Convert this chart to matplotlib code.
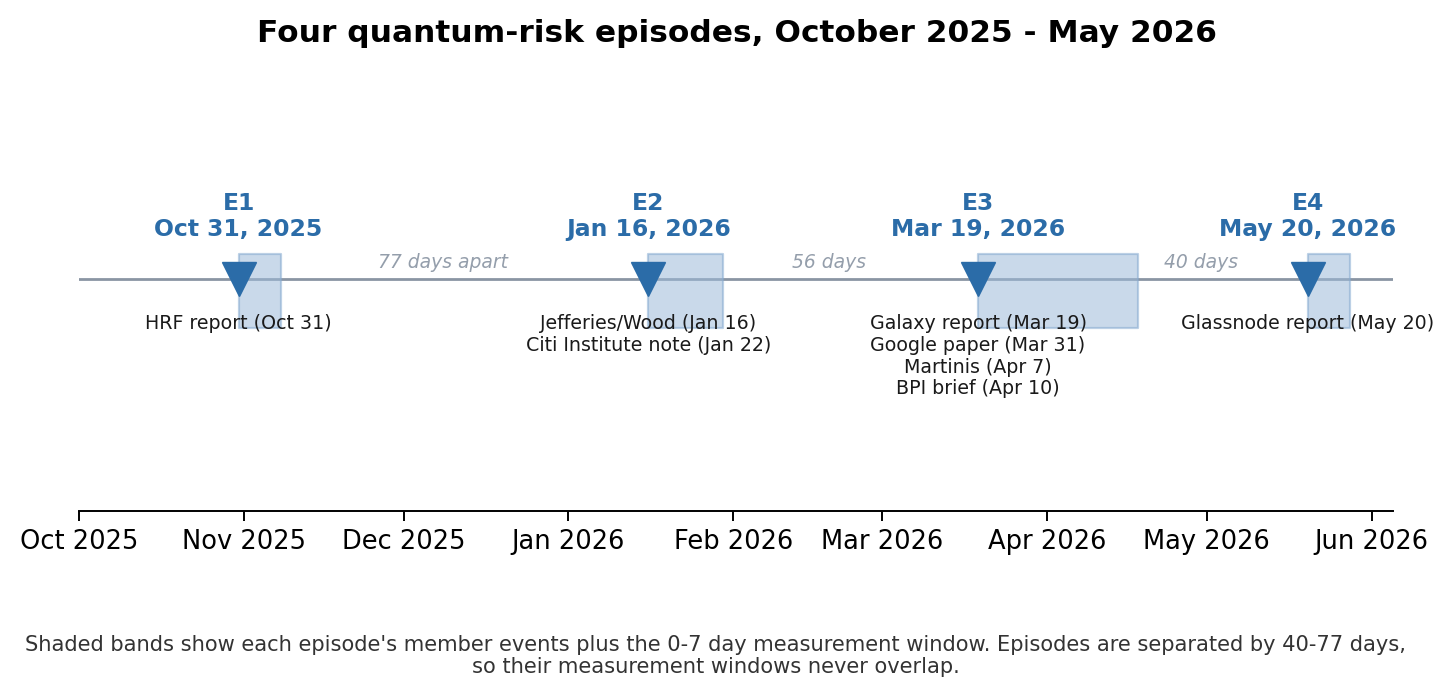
import datetime as dt

import matplotlib
matplotlib.use("Agg")
import matplotlib.dates as mdates
import matplotlib.pyplot as plt

# episodes: first member date, member events, end of measurement window
episode_names = ["E1", "E2", "E3", "E4"]
episode_starts = [dt.date(2025, 10, 31), dt.date(2026, 1, 16), dt.date(2026, 3, 19), dt.date(2026, 5, 20)]
episode_last = [dt.date(2025, 10, 31), dt.date(2026, 1, 22), dt.date(2026, 4, 10), dt.date(2026, 5, 20)]
window_days = 8  # day 0..7 inclusive
episode_events = [
    ["HRF report (Oct 31)"],
    ["Jefferies/Wood (Jan 16)", "Citi Institute note (Jan 22)"],
    ["Galaxy report (Mar 19)", "Google paper (Mar 31)", "Martinis (Apr 7)", "BPI brief (Apr 10)"],
    ["Glassnode report (May 20)"],
]
gap_labels = ["77 days apart", "56 days", "40 days"]

x_start = dt.date(2025, 10, 1)
x_end = dt.date(2026, 6, 5)

BLUE = "#2b6ca8"
BAND = "#9dbbd9"
LINE = "#8a95a3"
GAP_TXT = "#949eab"

fig = plt.figure(figsize=(14.56, 6.96), dpi=100)
ax = fig.add_axes([79 / 1456, (696 - 511) / 696, (1393 - 79) / 1456, (511 - 100) / 696])
ax.set_ylim(-1.3, 1.0)
ax.set_xlim(x_start, x_end)

ax.axhline(0, color=LINE, linewidth=2, zorder=1)

for name, start, last, events in zip(episode_names, episode_starts, episode_last, episode_events):
    end = last + dt.timedelta(days=window_days)
    ax.fill_between([start, end], -0.275, 0.14, color=BAND, alpha=0.55,
                    edgecolor="#86aad0", linewidth=1.6, zorder=2)
    ax.plot([start], [0], marker="v", markersize=24, color=BLUE, zorder=3, linestyle="none")
    ax.text(start, 0.21, f"{name}\n{start.strftime('%b')} {start.day}, {start.year}",
            ha="center", va="bottom", fontsize=16.9, fontweight="bold", color=BLUE,
            linespacing=1.2)
    ax.text(start, -0.2, "\n".join(events), ha="center", va="top", fontsize=13.7,
            color="#1a1a1a", linespacing=1.17)

for i, label in enumerate(gap_labels):
    a = mdates.date2num(episode_last[i])
    b = mdates.date2num(episode_starts[i + 1])
    ax.text((a + b) / 2, 0.035, label, ha="center", va="bottom", fontsize=13.5,
            style="italic", color=GAP_TXT)

ax.xaxis.set_major_locator(mdates.MonthLocator())
ax.xaxis.set_major_formatter(mdates.DateFormatter("%b %Y"))
ax.tick_params(axis="x", labelsize=18.5, length=7, width=1.4, pad=6)
ax.set_yticks([])
for side in ("top", "left", "right"):
    ax.spines[side].set_visible(False)
ax.spines["bottom"].set_linewidth(1.4)

fig.text(736.5 / 1456, 1 - 33 / 696, "Four quantum-risk episodes, October 2025 - May 2026",
         ha="center", va="center", fontsize=22.5, fontweight="bold")
fig.text(715.5 / 1456, 1 - 656 / 696,
         "Shaded bands show each episode's member events plus the 0-7 day measurement window. "
         "Episodes are separated by 40-77 days,\nso their measurement windows never overlap.",
         ha="center", va="center", fontsize=15.1, color="#333333", linespacing=1.15)

fig.savefig("out.png", dpi=100)
